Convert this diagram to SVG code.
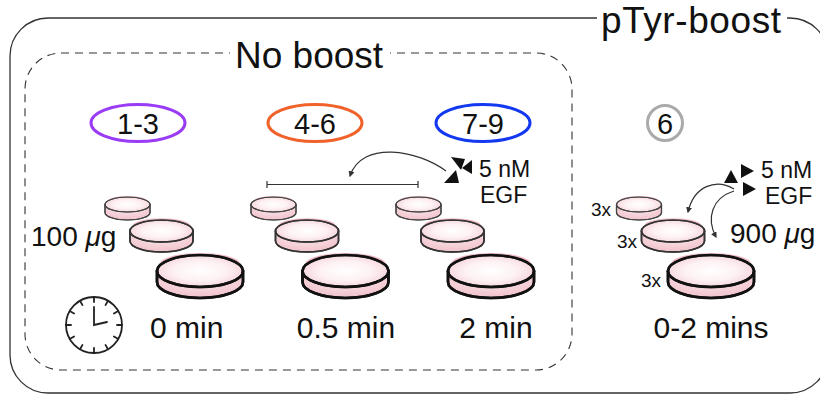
<svg xmlns="http://www.w3.org/2000/svg" xmlns:xlink="http://www.w3.org/1999/xlink" width="820" height="395" viewBox="0 0 820 395">
  <style>
    text { font-family: "Liberation Sans", Arial, sans-serif; fill: #111; }
    .title { font-size: 37px; }
    .lbl { font-size: 29px; text-anchor: middle; }
    .time { font-size: 30px; }
    .mass { font-size: 28px; }
    .egf { font-size: 23px; }
    .rep { font-size: 19px; text-anchor: end; }
    .tag { fill: none; stroke-width: 3; }
    .conn { fill: none; stroke: #333; stroke-width: 1.2; }
    .tri { fill: #111; stroke: none; }
    .dishS { stroke: #444; stroke-width: 1.2; }
    .dishM { stroke: #333; stroke-width: 1.6; }
    .dishL { stroke: #111; stroke-width: 2.6; }
    .wall { fill: url(#wall); }
    .lid { fill: url(#lid); }
    .clock { fill: none; stroke: #222; stroke-width: 1.8; stroke-linecap: round; }
  </style>
  <defs>
    <radialGradient id="lid" cx="0.5" cy="0.5" r="0.55">
      <stop offset="0" stop-color="#ffffff"/>
      <stop offset="0.55" stop-color="#fdf1f3"/>
      <stop offset="1" stop-color="#f5d2d9"/>
    </radialGradient>
    <radialGradient id="wall" cx="0.5" cy="0.3" r="0.6">
      <stop offset="0" stop-color="#fbe9ed"/>
      <stop offset="1" stop-color="#f2c6cf"/>
    </radialGradient>
    <marker id="arr" viewBox="0 0 10 10" refX="8" refY="5" markerWidth="5" markerHeight="5" orient="auto">
      <path d="M0,0 L10,5 L0,10 Z" fill="#333"/>
    </marker>
    <!-- petri dishes, drawn around the centre of their top rim -->
    <g id="dish-s">
      <path class="wall" d="M-22.5,0 L-22.5,8 A22.5,7.5 0 0 0 22.5,8 L22.5,0 Z"/>
      <ellipse class="lid" rx="22.5" ry="7.5"/>
      <path d="M-20,-3 A20,5 0 0 1 20,-3" fill="none" stroke="#f2bcc7" stroke-width="1"/>
      <path d="M-22.5,0 L-22.5,8 A22.5,7.5 0 0 0 22.5,8 L22.5,0" fill="none"/>
      <ellipse rx="22.5" ry="7.5" fill="none"/>
    </g>
    <g id="dish-m">
      <path class="wall" d="M-31.5,0 L-31.5,10 A31.5,11 0 0 0 31.5,10 L31.5,0 Z"/>
      <ellipse class="lid" rx="31.5" ry="11"/>
      <path d="M-28,-5 A28,7 0 0 1 28,-5" fill="none" stroke="#f2bcc7" stroke-width="1.5"/>
      <path d="M-31.5,0 L-31.5,10 A31.5,11 0 0 0 31.5,10 L31.5,0" fill="none"/>
      <ellipse rx="31.5" ry="11" fill="none"/>
    </g>
    <g id="dish-l">
      <path class="wall" d="M-43,0 L-43,11 A43,16 0 0 0 43,11 L43,0 Z"/>
      <ellipse class="lid" rx="43" ry="16"/>
      <path d="M-39,-7 A39,10 0 0 1 39,-7" fill="none" stroke="#f2bcc7" stroke-width="2"/>
      <path d="M-43,0 L-43,11 A43,16 0 0 0 43,11 L43,0" fill="none"/>
      <ellipse rx="43" ry="16" fill="none"/>
    </g>
  </defs>

  <rect width="820" height="395" fill="#fff"/>

  <!-- outer panel: pTyr-boost -->
  <g id="panel-ptyr">
    <rect x="10" y="18" width="818" height="375" rx="38" ry="38" fill="none" stroke="#333" stroke-width="1.3"/>
    <rect x="597" y="4" width="190" height="32" fill="#fff"/>
    <text class="title" x="601" y="33" textLength="180">pTyr-boost</text>
  </g>

  <!-- inner dashed panel: No boost -->
  <g id="panel-noboost">
    <rect x="25" y="53" width="547" height="317" rx="36" ry="36" fill="none" stroke="#333" stroke-width="1.1" stroke-dasharray="8 6"/>
    <rect x="230" y="38" width="160" height="30" fill="#fff"/>
    <text class="title" x="235" y="68">No boost</text>
  </g>

  <!-- replicate tags -->
  <g id="tag-1-3">
    <ellipse class="tag" cx="138" cy="123" rx="47" ry="18.5" stroke="#9a3cf5"/>
    <text class="lbl" x="138" y="134">1-3</text>
  </g>
  <g id="tag-4-6">
    <ellipse class="tag" cx="315" cy="123" rx="47" ry="18.5" stroke="#f0622a"/>
    <text class="lbl" x="315" y="134">4-6</text>
  </g>
  <g id="tag-7-9">
    <ellipse class="tag" cx="483" cy="123" rx="47" ry="18.5" stroke="#1238f0"/>
    <text class="lbl" x="483" y="134">7-9</text>
  </g>
  <g id="tag-6">
    <circle class="tag" cx="665" cy="123" r="17.5" stroke="#aaa"/>
    <text class="lbl" x="665" y="134">6</text>
  </g>

  <!-- dish stacks -->
  <g id="dishes-0min">
    <use xlink:href="#dish-s" class="dishS" x="127.5" y="204.5"/>
    <use xlink:href="#dish-m" class="dishM" x="161.5" y="231"/>
    <use xlink:href="#dish-l" class="dishL" x="200" y="271"/>
  </g>
  <g id="dishes-05min">
    <use xlink:href="#dish-s" class="dishS" x="273.5" y="204.5"/>
    <use xlink:href="#dish-m" class="dishM" x="307" y="231"/>
    <use xlink:href="#dish-l" class="dishL" x="345.5" y="271"/>
  </g>
  <g id="dishes-2min">
    <use xlink:href="#dish-s" class="dishS" x="418.5" y="204.5"/>
    <use xlink:href="#dish-m" class="dishM" x="452.5" y="231"/>
    <use xlink:href="#dish-l" class="dishL" x="491" y="271"/>
  </g>
  <g id="dishes-boost">
    <use xlink:href="#dish-s" class="dishS" x="639" y="204.5"/>
    <use xlink:href="#dish-m" class="dishM" x="673" y="231"/>
    <use xlink:href="#dish-l" class="dishL" x="711" y="271"/>
    <text class="rep" x="611" y="216">3x</text>
    <text class="rep" x="637" y="248">3x</text>
    <text class="rep" x="661" y="287">3x</text>
  </g>

  <!-- amounts -->
  <g id="amount-100">
    <text class="mass" x="31" y="246">100 <tspan font-style="italic">μ</tspan>g</text>
  </g>
  <g id="amount-900">
    <text class="mass" x="730" y="243">900 <tspan font-style="italic">μ</tspan>g</text>
  </g>

  <!-- EGF stimulus, no boost -->
  <g id="egf-noboost">
    <polygon class="tri" points="451,157 465,159 461,170"/>
    <polygon class="tri" points="472,160 472,174 462,168"/>
    <polygon class="tri" points="444,183 459,183 456,170"/>
    <text class="egf" x="479" y="177">5 nM</text>
    <text class="egf" x="480" y="203">EGF</text>
  </g>

  <!-- EGF stimulus, pTyr-boost -->
  <g id="egf-boost">
    <polygon class="tri" points="724,183 738,183 731,170"/>
    <polygon class="tri" points="741,164 741,178 754,171"/>
    <polygon class="tri" points="743,182 743,196 756,189"/>
    <text class="egf" x="761" y="178">5 nM</text>
    <text class="egf" x="765" y="204">EGF</text>
  </g>

  <!-- connectors -->
  <g id="connectors">
    <path class="conn" d="M446,171 C418,150 362,140 350,176" marker-end="url(#arr)"/>
    <path class="conn" d="M267,184.5 L418,184.5 M267,181 L267,188 M418,181 L418,188"/>
    <path class="conn" d="M734,189 C716,178 694,186 688,212" marker-end="url(#arr)"/>
    <path class="conn" d="M734,191 C712,198 706,218 716,237" marker-end="url(#arr)"/>
  </g>

  <!-- clock -->
  <g id="clock" class="clock">
    <circle cx="94" cy="325" r="28"/>
    <g transform="translate(94 325)">
      <line x1="0" y1="-28" x2="0" y2="-23"/>
      <line x1="0" y1="-28" x2="0" y2="-23" transform="rotate(30)"/>
      <line x1="0" y1="-28" x2="0" y2="-23" transform="rotate(60)"/>
      <line x1="0" y1="-28" x2="0" y2="-23" transform="rotate(90)"/>
      <line x1="0" y1="-28" x2="0" y2="-23" transform="rotate(120)"/>
      <line x1="0" y1="-28" x2="0" y2="-23" transform="rotate(150)"/>
      <line x1="0" y1="-28" x2="0" y2="-23" transform="rotate(180)"/>
      <line x1="0" y1="-28" x2="0" y2="-23" transform="rotate(210)"/>
      <line x1="0" y1="-28" x2="0" y2="-23" transform="rotate(240)"/>
      <line x1="0" y1="-28" x2="0" y2="-23" transform="rotate(270)"/>
      <line x1="0" y1="-28" x2="0" y2="-23" transform="rotate(300)"/>
      <line x1="0" y1="-28" x2="0" y2="-23" transform="rotate(330)"/>
      <polyline points="0,-18 0,0 13,-3"/>
    </g>
  </g>

  <!-- time points -->
  <g id="time-labels">
    <text class="time" x="150" y="338">0 min</text>
    <text class="time" x="346" y="338" text-anchor="middle">0.5 min</text>
    <text class="time" x="496" y="338" text-anchor="middle">2 min</text>
    <text class="time" x="711" y="338" text-anchor="middle">0-2 mins</text>
  </g>
</svg>
